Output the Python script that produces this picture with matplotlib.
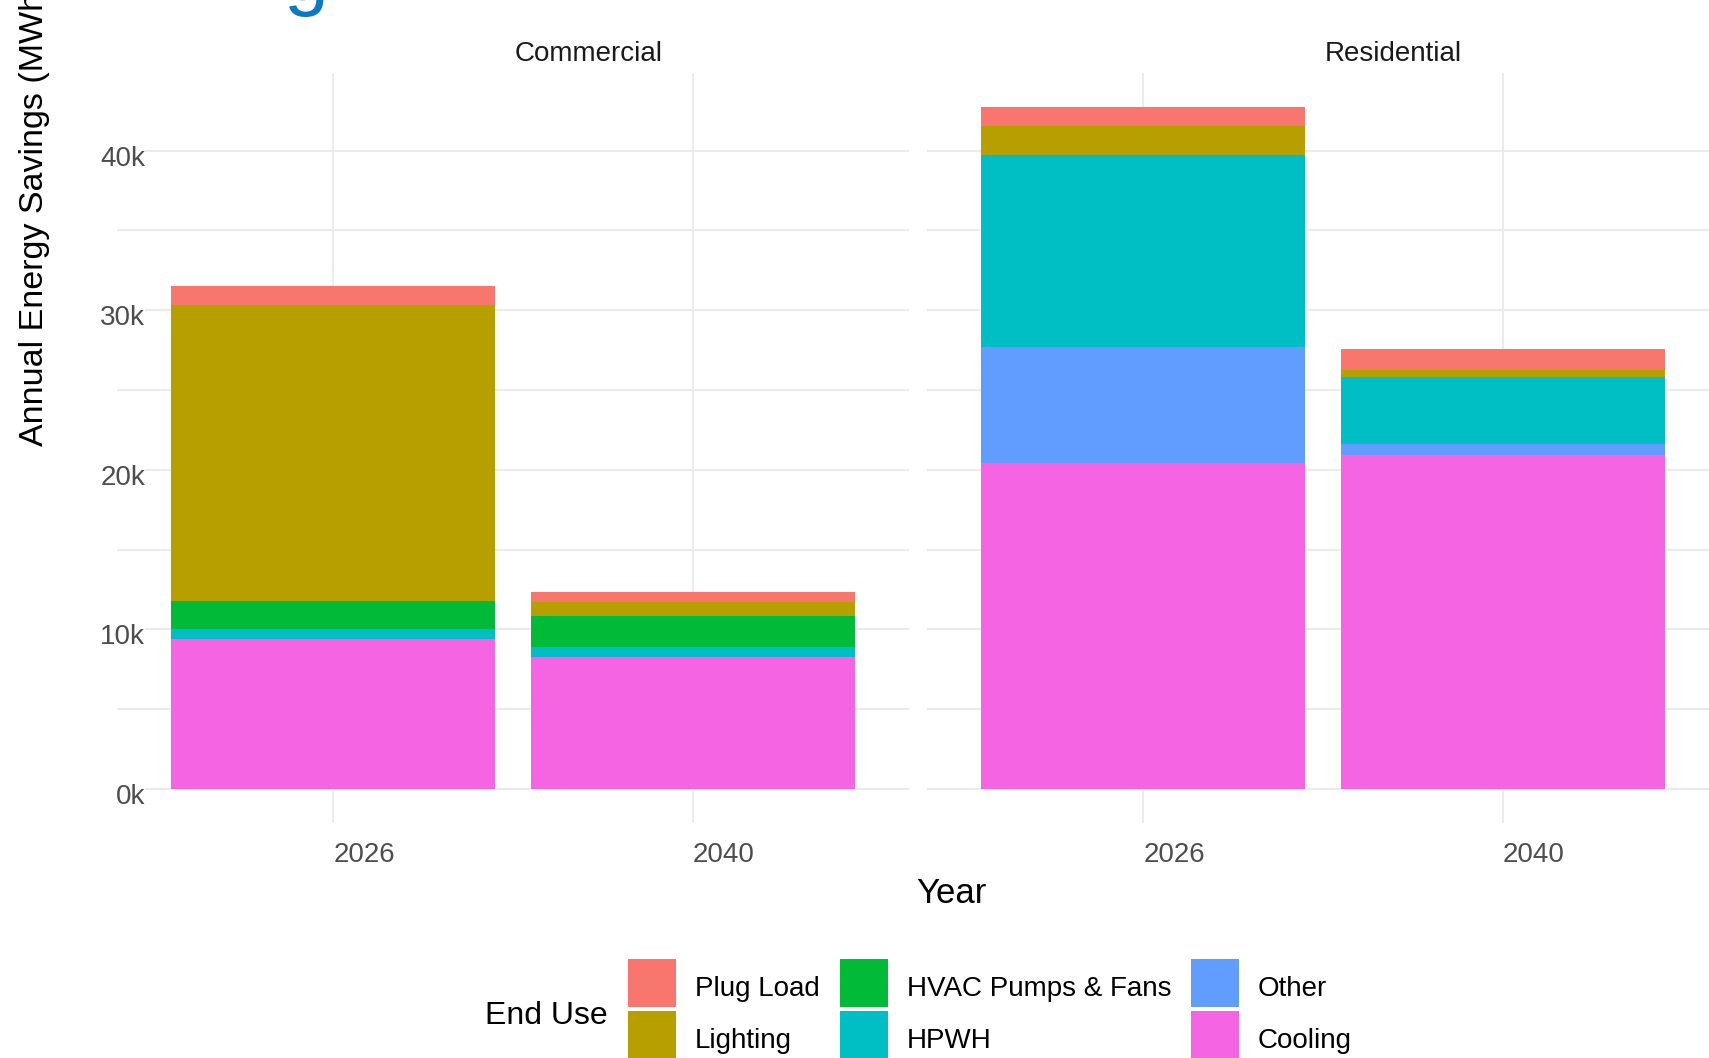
#!/usr/bin/python3

# Stacked annual energy savings by end use, faceted by sector.

import matplotlib
matplotlib.use("Agg")
import matplotlib.pyplot as plt
import matplotlib.transforms as transforms
from matplotlib.patches import Patch

plt.rcParams["font.family"] = ["Liberation Sans", "DejaVu Sans"]

# Data (MWh). Columns: Commercial 2026, Commercial 2040, Residential 2026,
# Residential 2040.
sectors = ["Commercial", "Residential"]
years = ["2026", "2040"]

cooling = [9410, 8280, 20410, 20950]
other = [0, 0, 7280, 630]
hpwh = [630, 630, 12040, 4200]
hvacPumpsFans = [1750, 1940, 0, 0]
lighting = [18510, 880, 1800, 440]
plugLoad = [1190, 630, 1190, 1320]

# Legend order (top of stack first) and ggplot default hue palette.
endUses = ["Plug Load", "Lighting", "HVAC Pumps & Fans", "HPWH", "Other",
           "Cooling"]
colors = ["#F8766D", "#B79F00", "#00BA38", "#00BFC4", "#619CFF", "#F564E3"]

W, H = 1709, 1058
dpi = 100

gridColor = "#EBEBEB"
tickColor = "#4D4D4D"


def px(x, y):
    # pixel (from top-left) to figure fraction
    return x / W, 1 - y / H


def GraphResults():
    fig = plt.figure(figsize=(W / dpi, H / dpi), dpi=dpi)

    series = [plugLoad, lighting, hvacPumpsFans, hpwh, other, cooling]
    totals = [sum(s[i] for s in series) for i in range(4)]
    yMax = max(totals)
    yLim = (-0.05 * yMax, yMax * 1.05)

    # Panel placement in pixels: left edge, top, width, height
    panelTop, panelBottom, panelWidth = 73, 823, 792
    panelLefts = [117, 927]

    axes = []
    for p, sector in enumerate(sectors):
        left = panelLefts[p]
        ax = fig.add_axes([left / W, (H - panelBottom) / H, panelWidth / W,
                           (panelBottom - panelTop) / H])
        axes.append(ax)
        ax.set_axisbelow(True)

        xs = [0, 1]
        bottoms = [0, 0]
        # Stack from bottom (Cooling) to top (Plug Load)
        for name, color, values in reversed(list(zip(endUses, colors, series))):
            vals = values[2 * p:2 * p + 2]
            ax.bar(xs, vals, width=0.9, bottom=bottoms, color=color,
                   linewidth=0, label=name)
            bottoms = [b + v for b, v in zip(bottoms, vals)]

        ax.set_xlim(-0.6, 1.6)
        ax.set_ylim(*yLim)

        for spine in ax.spines.values():
            spine.set_visible(False)

        ax.set_xticks(xs)
        ax.set_xticklabels(years)
        ax.set_yticks([0, 10000, 20000, 30000, 40000])
        ax.set_yticks([5000, 15000, 25000, 35000], minor=True)
        ax.tick_params(axis="both", which="both", length=0)
        ax.tick_params(axis="x", labelsize=20, labelcolor=tickColor, pad=13.5)

        ax.grid(True, which="major", axis="both", color=gridColor,
                linewidth=1.5)
        ax.grid(True, which="minor", axis="y", color=gridColor,
                linewidth=1.5)

        # x labels sit a little right of their gridline in the original
        xShift = transforms.ScaledTranslation(31 / dpi, 0, fig.dpi_scale_trans)
        for label in ax.get_xticklabels():
            label.set_transform(label.get_transform() + xShift)

        if p == 0:
            ax.set_yticklabels(["0k", "10k", "20k", "30k", "40k"])
            ax.tick_params(axis="y", labelsize=20, labelcolor=tickColor,
                           pad=0)
            yShift = transforms.ScaledTranslation(28 / dpi, -5 / dpi,
                                                  fig.dpi_scale_trans)
            for label in ax.get_yticklabels():
                label.set_transform(label.get_transform() + yShift)
                label.set_bbox(dict(facecolor="white", edgecolor="none",
                                    pad=0))
        else:
            ax.set_yticklabels([])

    # Strip labels
    fig.text(*px(589, 61), "Commercial", ha="center", va="baseline",
             fontsize=20, color="#1A1A1A")
    fig.text(*px(1393, 61), "Residential", ha="center", va="baseline",
             fontsize=20, color="#1A1A1A")

    # Axis titles
    fig.text(*px(951, 903), "Year", ha="center", va="baseline", fontsize=25)
    fig.text(*px(35, 446), "Annual Energy Savings (MWh)", rotation=90,
             ha="center", va="bottom", fontsize=24.5)

    # Title, mostly cropped off the top of the image
    fig.text(*px(306, 0), "g", ha="center", va="baseline", fontsize=58,
             color="#0B77C5")

    # Legend
    handles = [Patch(facecolor=c, edgecolor="none") for c in colors]
    legend = fig.legend(handles, endUses, ncol=3, loc="upper left",
                        bbox_to_anchor=px(628, 959), frameon=False,
                        fontsize=20, handlelength=1.73, handleheight=2.28,
                        handletextpad=0.68, columnspacing=0.72,
                        labelspacing=0.15, borderpad=0, borderaxespad=0)
    # Nudge labels down so they sit centred on the keys
    for text in legend.get_texts():
        text.set_y(-4)
    fig.text(*px(485, 1016), "End Use", ha="left", va="center", fontsize=23)

    fig.savefig("out.png", dpi=dpi, facecolor="white")


if __name__ == "__main__":
    GraphResults()
